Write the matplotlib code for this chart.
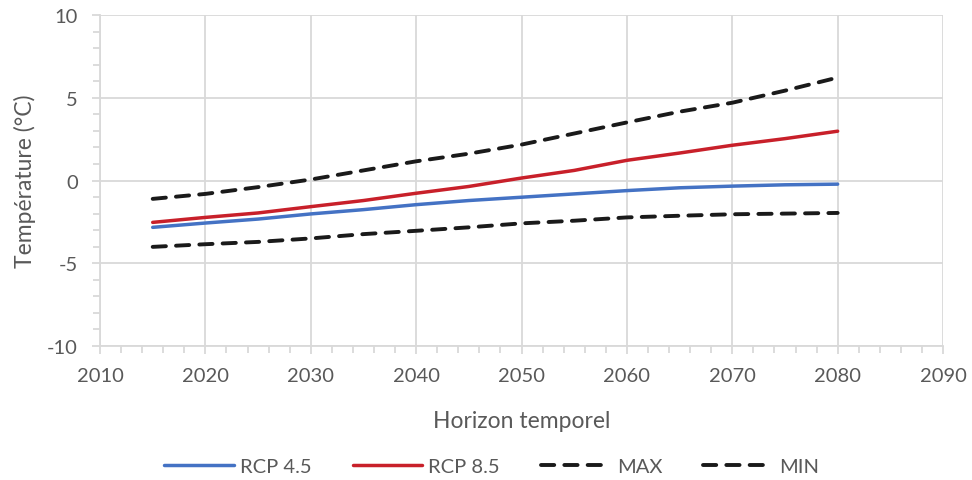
import matplotlib.pyplot as plt
from matplotlib.ticker import MultipleLocator

plt.rcParams['font.family'] = ['Lato', 'DejaVu Sans']
plt.rcParams['axes.unicode_minus'] = False

years = [2015, 2020, 2025, 2030, 2035, 2040, 2045, 2050, 2055, 2060, 2065, 2070, 2075, 2080]
rcp45 = [-2.83, -2.57, -2.33, -2.02, -1.76, -1.46, -1.21, -1.01, -0.81, -0.61, -0.44, -0.34, -0.26, -0.22]
rcp85 = [-2.53, -2.23, -1.96, -1.58, -1.21, -0.77, -0.36, 0.15, 0.61, 1.22, 1.66, 2.13, 2.53, 2.98]
tmax = [-1.11, -0.81, -0.40, 0.06, 0.61, 1.16, 1.62, 2.17, 2.84, 3.51, 4.16, 4.70, 5.43, 6.22]
tmin = [-4.01, -3.85, -3.71, -3.50, -3.24, -3.04, -2.83, -2.59, -2.43, -2.23, -2.13, -2.04, -2.00, -1.96]

grey = '#595959'
grid = '#d9d9d9'

fig = plt.figure(figsize=(9.72, 4.81), dpi=100)
ax = fig.add_axes([0.1029, 0.2786, 0.8673, 0.6881])

ax.plot(years, rcp45, color='#4472C4', lw=2.5, label='RCP 4.5', solid_capstyle='round')
ax.plot(years, rcp85, color='#C8202A', lw=2.5, label='RCP 8.5', solid_capstyle='round')
ax.plot(years, tmax, color='#1a1a1a', lw=2.8, dashes=(3.4, 2.6), dash_capstyle='round', label='MAX')
ax.plot(years, tmin, color='#1a1a1a', lw=2.8, dashes=(3.4, 2.6), dash_capstyle='round', label='MIN')

ax.set_xlim(2010, 2090)
ax.set_ylim(-10, 10)
ax.xaxis.set_major_locator(MultipleLocator(10))
ax.xaxis.set_minor_locator(MultipleLocator(2))
ax.yaxis.set_major_locator(MultipleLocator(5))
ax.yaxis.set_minor_locator(MultipleLocator(1))
ax.grid(True, which='major', color=grid, lw=1.3)
ax.set_axisbelow(True)

for s in ['top', 'right']:
    ax.spines[s].set_visible(False)
for s in ['left', 'bottom']:
    ax.spines[s].set_color(grid)
    ax.spines[s].set_linewidth(1.3)

ax.tick_params(which='both', direction='out', color=grid, width=1.3, labelcolor=grey, labelsize=14.5)
ax.tick_params(which='major', length=6)
ax.tick_params(which='minor', length=5)
ax.tick_params(axis='x', which='major', pad=9)
ax.tick_params(axis='y', which='major', pad=10)

ax.set_xlabel('Horizon temporel', fontsize=16.5, color=grey, labelpad=19)
ax.set_ylabel('Température (°C)', fontsize=16.5, color=grey, labelpad=8)

leg = fig.legend(loc='center', bbox_to_anchor=(0.5057, 0.029), ncol=4, frameon=False,
                 fontsize=14.5, handlelength=3.45, columnspacing=2.05, handletextpad=0.3)
for t in leg.get_texts():
    t.set_color(grey)

fig.savefig('out.png', dpi=100)
